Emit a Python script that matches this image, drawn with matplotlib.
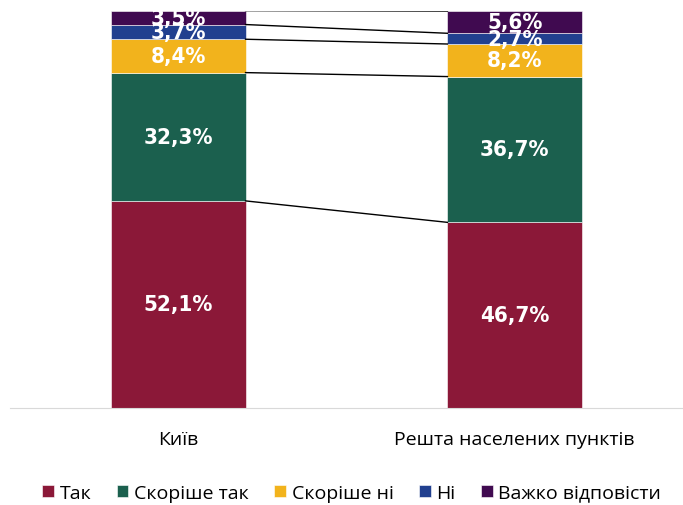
import matplotlib.pyplot as plt
import numpy as np

# Частки відповідей за типом населеного пункту, %
categories = ['Київ', 'Решта населених пунктів']
series = ['Так', 'Скоріше так', 'Скоріше ні', 'Ні', 'Важко відповісти']
values = {
    'Так': [52.1, 46.7],
    'Скоріше так': [32.3, 36.7],
    'Скоріше ні': [8.4, 8.2],
    'Ні': [3.7, 2.7],
    'Важко відповісти': [3.5, 5.6],
}
colors = ['#8B1838', '#1B604E', '#F2B31C', '#21408F', '#400A50']

fig = plt.figure(figsize=(6.83, 5.06), dpi=100)
ax = fig.add_axes([0.0146, 0.192, 0.9854, 0.785])

x = np.arange(len(categories))
width = 0.4
bottom = np.zeros(len(categories))
tops = []
for name, col in zip(series, colors):
    v = np.array(values[name])
    ax.bar(x, v, width, bottom=bottom, color=col, edgecolor='white',
           linewidth=0.4, label=name)
    for xi, b, vi in zip(x, bottom, v):
        ax.text(xi, b + vi / 2, f'{vi:.1f}%'.replace('.', ','),
                ha='center', va='center', color='white', fontsize=16,
                fontweight='bold', fontstretch='condensed',
                family='DejaVu Sans')
    bottom = bottom + v
    tops.append(bottom.copy())

# лінії між межами сегментів
for t in tops:
    ax.plot([x[0] + width / 2, x[1] - width / 2], [t[0], t[1]],
            color='black', linewidth=1)

ax.set_xlim(-0.5, 1.5)
ax.set_ylim(0, 100)
ax.set_yticks([])
ax.set_xticks(x)
ax.set_xticklabels(categories, fontsize=14, family='Open Sans')
ax.tick_params(axis='x', length=0, pad=16)
for s in ['top', 'right', 'left']:
    ax.spines[s].set_visible(False)
ax.spines['bottom'].set_color('#d9d9d9')

fig.legend(loc='lower center', bbox_to_anchor=(0.515, -0.028), ncol=5,
           frameon=False, handlelength=0.6, handleheight=0.6,
           handletextpad=0.3, columnspacing=1.3,
           prop={'family': 'Open Sans', 'size': 14})

fig.savefig('out.png', dpi=100)
